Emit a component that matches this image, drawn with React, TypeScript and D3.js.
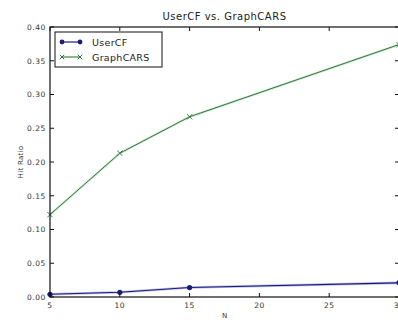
import React from "react";
import * as d3 from "d3";

const nValues = [5, 10, 15, 30];
const userCF = [0.004, 0.007, 0.014, 0.021];
const graphCARS = [0.122, 0.213, 0.267, 0.374];
const xTicks = [5, 10, 15, 20, 25, 30];
const yTicks = [0, 0.05, 0.1, 0.15, 0.2, 0.25, 0.3, 0.35, 0.4];
const seriesNames = ["UserCF", "GraphCARS"];

const W = 398;
const H = 320;
const left = 50;
const right = 399;
const top = 27;
const bottom = 297;
const font = "DejaVu Sans, sans-serif";
const blue = "#1c1c78";
const green = "#2f7a3a";

export default function App() {
  const x = d3.scaleLinear().domain([5, 30]).range([left, right]);
  const y = d3.scaleLinear().domain([0, 0.4]).range([bottom, top]);
  const line = d3
    .line<number>()
    .x((_, i) => x(nValues[i]))
    .y((d) => y(d));
  const tl = 4;

  const cross = (cx: number, cy: number, r: number, key: string) => (
    <g key={key} stroke={green} strokeWidth={1}>
      <line x1={cx - r} y1={cy - r} x2={cx + r} y2={cy + r} />
      <line x1={cx - r} y1={cy + r} x2={cx + r} y2={cy - r} />
    </g>
  );

  return (
    <svg
      width={W}
      height={H}
      style={{ position: "absolute", left: 0, top: 0, background: "#fff" }}
      fontFamily={font}
    >
      <rect x={0} y={0} width={W} height={H} fill="#fff" />
      <text x={(left + right) / 2} y={20} textAnchor="middle" fontSize={10} letterSpacing={0.5} fill="#222">
        UserCF vs. GraphCARS
      </text>

      {/* data lines */}
      <path d={line(graphCARS) || ""} fill="none" stroke="#9fd0a5" strokeWidth={2.4} opacity={0.5} />
      <path d={line(graphCARS) || ""} fill="none" stroke={green} strokeWidth={1} />
      {graphCARS.map((v, i) => cross(x(nValues[i]), y(v), 2.6, "g" + i))}
      <path d={line(userCF) || ""} fill="none" stroke="#8888dd" strokeWidth={2.6} opacity={0.55} />
      <path d={line(userCF) || ""} fill="none" stroke={blue} strokeWidth={1.1} />
      {userCF.map((v, i) => (
        <circle key={"u" + i} cx={x(nValues[i])} cy={y(v)} r={2.6} fill={blue} />
      ))}

      {/* frame */}
      <rect x={left} y={top} width={right - left} height={bottom - top} fill="none" stroke="#111" strokeWidth={1.2} />

      {/* x ticks */}
      {xTicks.map((t) => (
        <g key={"xt" + t}>
          <line x1={x(t)} x2={x(t)} y1={bottom} y2={bottom - tl} stroke="#111" />
          <line x1={x(t)} x2={x(t)} y1={top} y2={top + tl} stroke="#111" />
          <text x={x(t)} y={308} textAnchor="middle" fontSize={7.5} fill="#333" letterSpacing={0.5}>
            {t}
          </text>
        </g>
      ))}

      {/* y ticks */}
      {yTicks.map((t) => (
        <g key={"yt" + t}>
          <line x1={left} x2={left + tl} y1={y(t)} y2={y(t)} stroke="#111" />
          <line x1={right} x2={right - tl} y1={y(t)} y2={y(t)} stroke="#111" />
          <text x={46} y={y(t) + 2.8} textAnchor="end" fontSize={7.5} fill="#333" letterSpacing={0.6}>
            {t.toFixed(2)}
          </text>
        </g>
      ))}

      <text x={(left + right) / 2} y={318} textAnchor="middle" fontSize={7} fill="#333">
        N
      </text>
      <text
        transform={`translate(23,${(top + bottom) / 2}) rotate(-90)`}
        textAnchor="middle"
        fontSize={7}
        fill="#333"
        letterSpacing={0.3}
      >
        Hit Ratio
      </text>

      {/* legend */}
      <rect x={55} y={32} width={107} height={35} fill="#fff" stroke="#111" strokeWidth={1} />
      <line x1={62} x2={80} y1={42} y2={42} stroke={blue} strokeWidth={1.2} />
      <circle cx={62} cy={42} r={2.4} fill={blue} />
      <circle cx={80} cy={42} r={2.4} fill={blue} />
      <text x={92} y={45.5} fontSize={9.5} fill="#222" letterSpacing={0.3}>
        {seriesNames[0]}
      </text>
      <line x1={62} x2={80} y1={57} y2={57} stroke={green} strokeWidth={1.1} />
      {cross(62, 57, 2.2, "lg1")}
      {cross(80, 57, 2.2, "lg2")}
      <text x={92} y={60.5} fontSize={9.5} fill="#222" letterSpacing={0.3}>
        {seriesNames[1]}
      </text>
    </svg>
  );
}
